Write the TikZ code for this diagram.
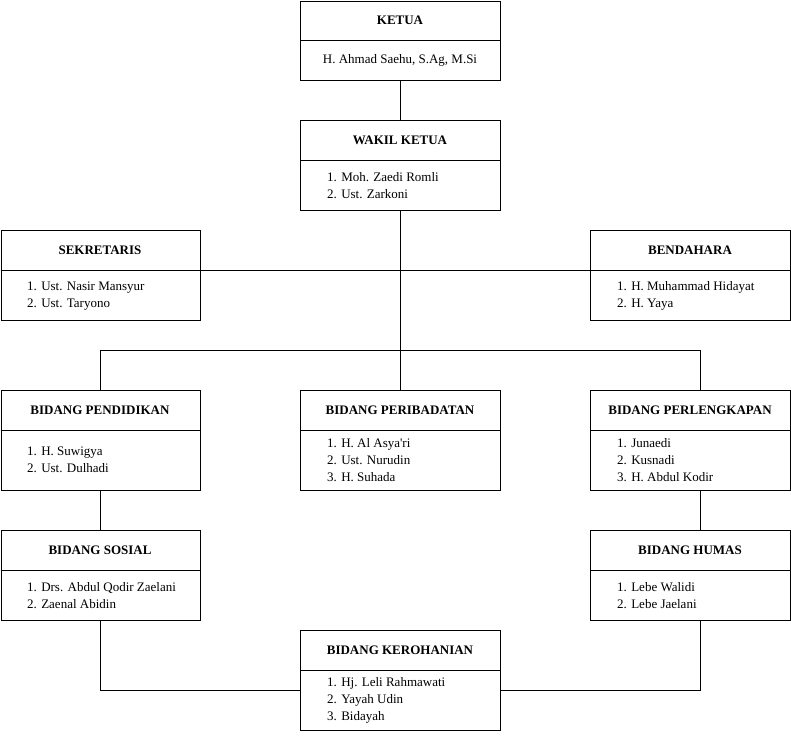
\documentclass[tikz,border=0pt]{standalone}
\usepackage{fontspec}
\setmainfont{Liberation Serif}
\begin{document}
\begin{tikzpicture}[x=1pt,y=-1pt,
  every node/.style={font=\fontsize{13}{17}\selectfont},
  box/.style={draw, line width=0.8pt, minimum width=200pt, inner sep=0pt, anchor=north west},
  ttl/.style={font=\fontsize{13}{17}\selectfont\bfseries, inner sep=0pt},
  lst/.style={align=left, anchor=west, inner sep=0pt},
  ctr/.style={inner sep=0pt},
  div/.style={line width=0.8pt},
  conn/.style={line width=0.8pt}]
\useasboundingbox (0,0) rectangle (791,740);
% KETUA
\node[box, minimum height=79.5pt] (ketua) at (300,0.5) {};
\coordinate (ketua-d) at (300,40);
\draw[div] (ketua-d) -- ++(200,0);
\node[ttl] (ketua-t) at (400,20) {KETUA};
\node[ctr] (ketua-c) at (400,60) {H. Ahmad Saehu, S.Ag, M.Si};
% WAKIL KETUA
\node[box, minimum height=90pt] (wakil) at (300,120) {};
\coordinate (wakil-d) at (300,160);
\draw[div] (wakil-d) -- ++(200,0);
\node[ttl] (wakil-t) at (400,140) {WAKIL KETUA};
\node[lst] (wakil-c) at (327,186) {1. Moh. Zaedi Romli\\2. Ust. Zarkoni};
% SEKRETARIS
\node[box, minimum width=199.5pt, minimum height=90pt] (sek) at (0.5,230) {};
\coordinate (sek-d) at (0.5,270);
\coordinate (sek-dr) at (200,270);
\draw[div] (sek-d) -- (sek-dr);
\node[ttl] (sek-t) at (100,250) {SEKRETARIS};
\node[lst] (sek-c) at (27,296) {1. Ust. Nasir Mansyur\\2. Ust. Taryono};
% BENDAHARA
\node[box, minimum height=90pt] (bend) at (590,230) {};
\coordinate (bend-d) at (590,270);
\draw[div] (bend-d) -- ++(200,0);
\node[ttl] (bend-t) at (690,250) {BENDAHARA};
\node[lst] (bend-c) at (617,296) {1. H. Muhammad Hidayat\\2. H. Yaya};
% BIDANG PENDIDIKAN
\node[box, minimum width=199.5pt, minimum height=100pt] (pend) at (0.5,390) {};
\coordinate (pend-d) at (0.5,430);
\draw[div] (pend-d) -- ++(199.5,0);
\node[ttl] (pend-t) at (100,410) {BIDANG PENDIDIKAN};
\node[lst] (pend-c) at (27,460) {1. H. Suwigya\\2. Ust. Dulhadi};
% BIDANG PERIBADATAN
\node[box, minimum height=100pt] (perib) at (300,390) {};
\coordinate (perib-d) at (300,430);
\draw[div] (perib-d) -- ++(200,0);
\node[ttl] (perib-t) at (400,410) {BIDANG PERIBADATAN};
\node[lst] (perib-c) at (327,460) {1. H. Al Asya\textquotesingle ri\\2. Ust. Nurudin\\3. H. Suhada};
% BIDANG PERLENGKAPAN
\node[box, minimum height=100pt] (perl) at (590,390) {};
\coordinate (perl-d) at (590,430);
\draw[div] (perl-d) -- ++(200,0);
\node[ttl] (perl-t) at (690,410) {BIDANG PERLENGKAPAN};
\node[lst] (perl-c) at (617,460) {1. Junaedi\\2. Kusnadi\\3. H. Abdul Kodir};
\coordinate (perl-top) at (700,390);
\coordinate (perl-bot) at (700,490);
% BIDANG SOSIAL
\node[box, minimum width=199.5pt, minimum height=90pt] (sos) at (0.5,530) {};
\coordinate (sos-d) at (0.5,570);
\draw[div] (sos-d) -- ++(199.5,0);
\node[ttl] (sos-t) at (100,550) {BIDANG SOSIAL};
\node[lst] (sos-c) at (27,596) {1. Drs. Abdul Qodir Zaelani\\2. Zaenal Abidin};
% BIDANG HUMAS
\node[box, minimum height=90pt] (humas) at (590,530) {};
\coordinate (humas-d) at (590,570);
\draw[div] (humas-d) -- ++(200,0);
\node[ttl] (humas-t) at (690,550) {BIDANG HUMAS};
\node[lst] (humas-c) at (617,596) {1. Lebe Walidi\\2. Lebe Jaelani};
\coordinate (humas-top) at (700,530);
\coordinate (humas-bot) at (700,620);
% BIDANG KEROHANIAN
\node[box, minimum height=100pt] (keroh) at (300,630) {};
\coordinate (keroh-d) at (300,670);
\draw[div] (keroh-d) -- ++(200,0);
\node[ttl] (keroh-t) at (400,650) {BIDANG KEROHANIAN};
\node[lst] (keroh-c) at (327,700) {1. Hj. Leli Rahmawati\\2. Yayah Udin\\3. Bidayah};
\coordinate (keroh-l) at (300,690);
\coordinate (keroh-r) at (500,690);
% connectors
\draw[conn] (ketua.south) -- (wakil.north);
\draw[conn] (wakil.south) -- (perib.north);
\draw[conn] (sek-dr) -- (bend-d);
\draw[conn] (pend.north) -- ++(0,-40) -| (perl-top);
\draw[conn] (pend.south) -- (sos.north);
\draw[conn] (perl-bot) -- (humas-top);
\draw[conn] (sos.south) |- (keroh-l);
\draw[conn] (humas-bot) |- (keroh-r);
\end{tikzpicture}
\end{document}
